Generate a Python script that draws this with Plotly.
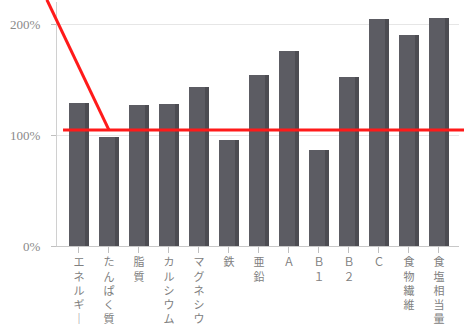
import plotly.graph_objects as go

categories = ["エネルギー", "たんぱく質", "脂質", "カルシウム", "マグネシウム", "鉄",
              "亜鉛", "Ａ", "Ｂ１", "Ｂ２", "Ｃ", "食物繊維", "食塩相当量"]
values = [129, 98, 127, 128, 143, 96, 154, 176, 87, 152, 205, 190, 206]
reference_level = 104.5
pointer_start = (-1.07, 222)
pointer_end = (1, 104.5)
y_tickvals = [0, 100, 200]
y_ticktext = ["0%", "100%", "200%"]

def vert(s):
    return "<br>".join("｜" if c == "ー" else c for c in s)

x_range = [-0.733, 12.667]
y_range = [0, 220]

def to_paper(x, y):
    return ((x - x_range[0]) / (x_range[1] - x_range[0]),
            (y - y_range[0]) / (y_range[1] - y_range[0]))

fig = go.Figure()
fig.add_trace(go.Bar(x=categories, y=values, width=0.6, offset=-0.32,
                     marker=dict(color="#5c5c63", line=dict(width=0)), showlegend=False))
fig.add_trace(go.Bar(x=categories, y=values, width=0.12, offset=0.2,
                     marker=dict(color="#4c4c52", line=dict(width=0)), showlegend=False))

fig.add_shape(type="line", xref="paper", yref="y", x0=0.015, x1=1.02,
              y0=reference_level, y1=reference_level,
              line=dict(color="#ff1a1a", width=3))
px0, py0 = to_paper(*pointer_start)
px1, py1 = to_paper(*pointer_end)
fig.add_shape(type="line", xref="paper", yref="paper", x0=px0, y0=py0, x1=px1, y1=py1,
              line=dict(color="#ff1a1a", width=3))

fig.update_layout(
    width=464, height=329,
    margin=dict(l=57, r=5, t=2, b=83),
    paper_bgcolor="white", plot_bgcolor="white",
    barmode="overlay", bargap=0,
    font=dict(family="Noto Sans CJK JP", color="#777777"),
    xaxis=dict(type="category", range=x_range, tickmode="array",
               tickvals=categories, ticktext=[vert(c) for c in categories],
               tickangle=0, ticks="outside", ticklen=6, tickcolor="#c0c0c0",
               showline=True, linecolor="#c8c8c8", linewidth=1, automargin=False,
               tickfont=dict(size=11, color="#808080", family="Noto Sans CJK JP"),
               showgrid=False),
    yaxis=dict(range=y_range, tickvals=y_tickvals, ticktext=y_ticktext,
               ticks="outside", ticklen=5, tickcolor="#c0c0c0", automargin=False,
               showline=True, linecolor="#d0d0d0", linewidth=1,
               showgrid=True, gridcolor="#e6e6e6", zeroline=False,
               tickfont=dict(size=13, color="#8a8a8a", family="Liberation Serif"),
               ticklabelstandoff=8),
)

fig.write_html("out.html")
